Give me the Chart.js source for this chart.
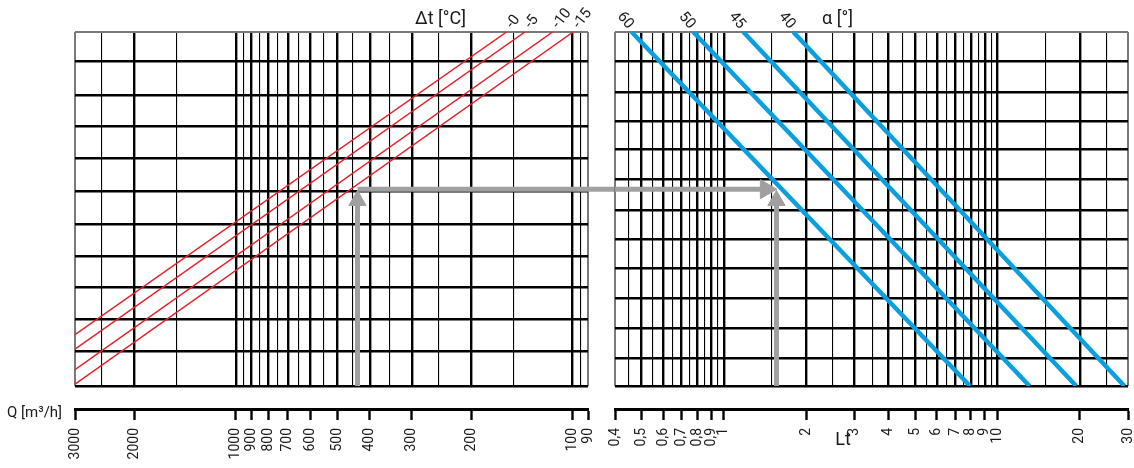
<!DOCTYPE html>
<html>
<head>
<meta charset="utf-8">
<script src="https://cdn.jsdelivr.net/npm/chart.js@4.4.1/dist/chart.umd.min.js"></script>
<style>
  html, body { margin: 0; padding: 0; background: #fff; overflow: hidden; }
  #wrap { position: relative; width: 1134px; height: 468px; }
  .pane { position: absolute; top: 0; height: 468px; }
</style>
</head>
<body>
<div id="wrap">
  <div class="pane" style="left:0;width:615px"><canvas id="left"></canvas></div>
  <div class="pane" style="left:595px;width:539px"><canvas id="right"></canvas></div>
</div>
<script>
// ---- grid / tick values ----
const qGrid = [3000, 2500, 2000, 1500, 1000, 950, 900, 850, 800, 750, 700, 650, 600, 550, 500, 450, 400, 350, 300, 250, 200, 150, 100, 95, 90];
const qMajor = [2000, 1000, 900, 800, 700, 600, 500, 400, 300, 200, 100];
const qTicks = [3000, 2000, 1000, 900, 800, 700, 600, 500, 400, 300, 200, 100, 90];

const ltGrid = [0.4, 0.45, 0.5, 0.55, 0.6, 0.65, 0.7, 0.75, 0.8, 0.85, 0.9, 0.95, 1, 1.5, 2, 2.5, 3, 3.5, 4, 4.5, 5, 5.5, 6, 6.5, 7, 7.5, 8, 8.5, 9, 9.5, 10, 15, 20, 25, 30];
const ltMajor = [0.5, 0.6, 0.7, 0.8, 0.9, 1, 2, 3, 4, 5, 6, 7, 8, 9, 10, 20];
const ltTicks = [0.4, 0.5, 0.6, 0.7, 0.8, 0.9, 1, 2, 3, 4, 5, 6, 7, 8, 9, 10, 20, 30];
const ltTickLabels = ['0,4', '0,5', '0,6', '0,7', '0,8', '0,9', '1', '2', '3', '4', '5', '6', '7', '8', '9', '10', '20', '30'];

// horizontal lines (no scale shown, 0 = bottom, 100 = top)
const yLeftGrid = [0, 9.7, 18.9, 27.9, 36.6, 45.8, 54.9, 64.3, 73.3, 82.1, 91.7, 100];
const yRightGrid = [0, 7.9, 16.3, 24.8, 33.3, 41.4, 49.7, 58.5, 66.8, 74.8, 83.0, 91.8, 100];

// Δt lines : start on Q = 3000 edge, end on top edge
const dtLabels = ['-0', '-5', '-10', '-15'];
const dtStartY = [14.5, 10.4, 4.6, 0.5];
const dtEndQ = [157, 138.5, 114.6, 99.6];

// α lines : start on top edge, end on bottom edge
const alphaLabels = ['60', '50', '45', '40'];
const alphaTopLt = [0.46, 0.773, 1.178, 1.794];
const alphaBottomLt = [7.94, 13.1, 19.4, 29.1];

// worked example (grey arrows)
const exQ = 435;
const exGapQ = 75;       // bar continues into the gap between the panels
const exBarY = 55.6;
const exHeadY = 52.4;
const exHeadLt = 1.424;
const exLt = 1.557;

const FONT = 'Roboto';
const GREY = '#a0a0a0';
const EDGE = '#7a7a7a';

// small plugin: titles and rotated line labels
function tagsPlugin(texts, lineTags) {
    return {
        id: 'tags',
        afterDatasetsDraw(chart) {
            const ctx = chart.ctx;
            ctx.save();
            ctx.fillStyle = '#1a1a1a';
            texts.forEach(t => {
                ctx.font = t.size + 'px ' + FONT;
                ctx.textAlign = t.align || 'left';
                ctx.textBaseline = 'middle';
                ctx.fillText(t.text, t.x, t.y);
            });
            lineTags.forEach(t => {
                const p = chart.getDatasetMeta(t.ds).data[t.pt];
                ctx.save();
                ctx.translate(p.x + t.dx, p.y + t.dy);
                ctx.rotate(t.angle * Math.PI / 180);
                ctx.font = '15px ' + FONT;
                ctx.textAlign = t.align;
                ctx.textBaseline = 'middle';
                ctx.fillText(t.text, 0, 0);
                ctx.restore();
            });
            ctx.restore();
        }
    };
}

function yScale(grid) {
    return {
        type: 'linear', position: 'left', min: 0, max: 100,
        afterBuildTicks: s => { s.ticks = grid.map(v => ({ value: v })); },
        afterFit: s => { s.width = 0; },
        ticks: { display: false },
        border: { display: false },
        grid: {
            drawTicks: false,
            color: c => c.tick.value === 100 ? EDGE : '#000',
            lineWidth: c => c.tick.value === 100 ? 2 : 2.4
        }
    };
}

// keeps the labelled axis from pushing the plot area inwards
function fitTickAxis(s) {
    s.height = 59;
    s.paddingLeft = 0;
    s.paddingRight = 0;
}

function arrowSets(barData, headAt, headRot, shaftData, vHeadAt) {
    return [
        { data: barData, borderColor: GREY, borderWidth: 5, pointRadius: 0, clip: false, borderCapStyle: 'butt' },
        { data: shaftData, borderColor: GREY, borderWidth: 5, pointRadius: 0, clip: false, borderCapStyle: 'butt' },
        { data: vHeadAt, showLine: false, pointStyle: 'triangle', pointRadius: 10, pointRotation: 0,
          pointBackgroundColor: GREY, pointBorderColor: GREY, pointBorderWidth: 1, clip: false }
    ].concat(headAt ? [{ data: headAt, showLine: false, pointStyle: 'triangle', pointRadius: 11, pointRotation: headRot,
          pointBackgroundColor: GREY, pointBorderColor: GREY, pointBorderWidth: 1, clip: false }] : []);
}

// ============ left panel : Q / Δt ============
const dtSets = dtLabels.map((lab, i) => ({
    label: lab,
    data: [{ x: 3000, y: dtStartY[i] }, { x: dtEndQ[i], y: 100 }],
    borderColor: '#e8202a', borderWidth: 1.5, pointRadius: 0, xAxisID: 'x'
}));

new Chart(document.getElementById('left'), {
    type: 'line',
    data: {
        datasets: dtSets.concat(arrowSets(
            [{ x: exQ, y: exBarY }, { x: exGapQ, y: exBarY }], null, 0,
            [{ x: exQ, y: 0 }, { x: exQ, y: exHeadY }],
            [{ x: exQ, y: exHeadY }]
        ))
    },
    options: {
        responsive: true, maintainAspectRatio: false, animation: false,
        layout: { autoPadding: false, padding: { left: 75, top: 32, right: 27, bottom: 0 } },
        plugins: { legend: { display: false }, tooltip: { enabled: false } },
        scales: {
            x: {
                type: 'logarithmic', reverse: true, min: 90, max: 3000, position: 'bottom',
                afterBuildTicks: s => { s.ticks = qGrid.map(v => ({ value: v })); },
                afterFit: s => { s.height = 23; },
                ticks: { display: false },
                border: { display: false },
                grid: {
                    drawTicks: false,
                    color: c => (c.tick.value === 3000 || c.tick.value === 90) ? EDGE : '#000',
                    lineWidth: c => qMajor.includes(c.tick.value) ? 2.4 : ((c.tick.value === 3000 || c.tick.value === 90) ? 2 : 1.1)
                }
            },
            q: {
                type: 'logarithmic', reverse: true, min: 90, max: 3000, position: 'bottom',
                afterBuildTicks: s => { s.ticks = qTicks.map(v => ({ value: v })); },
                afterFit: fitTickAxis,
                border: { display: true, color: '#000', width: 3 },
                grid: { drawOnChartArea: false, drawTicks: true, tickLength: 11, tickWidth: 2.4, tickColor: '#000' },
                ticks: {
                    autoSkip: false, minRotation: 90, maxRotation: 90, padding: 8,
                    color: '#1a1a1a', font: { family: FONT, size: 14 },
                    callback: v => String(v)
                }
            },
            y: yScale(yLeftGrid)
        }
    },
    plugins: [tagsPlugin(
        [{ text: 'Δt [°C]', x: 415, y: 19, size: 18 }, { text: 'Q [m³/h]', x: 7, y: 413, size: 15 }],
        dtLabels.map((lab, i) => ({ ds: i, pt: 1, dx: 3, dy: -5, angle: -52, align: 'left', text: lab }))
    )]
});

// ============ right panel : Lt / α ============
const alphaSets = alphaLabels.map((lab, i) => ({
    label: lab,
    data: [{ x: alphaTopLt[i], y: 100 }, { x: alphaBottomLt[i], y: 0 }],
    borderColor: '#0aa0e0', borderWidth: 4.5, pointRadius: 0, xAxisID: 'x', borderCapStyle: 'butt'
}));

new Chart(document.getElementById('right'), {
    type: 'line',
    data: {
        datasets: alphaSets.concat(arrowSets(
            [{ x: 0.4, y: exBarY }, { x: exHeadLt, y: exBarY }],
            [{ x: exHeadLt, y: exBarY }], 90,
            [{ x: exLt, y: 0 }, { x: exLt, y: exHeadY }],
            [{ x: exLt, y: exHeadY }]
        ))
    },
    options: {
        responsive: true, maintainAspectRatio: false, animation: false,
        layout: { autoPadding: false, padding: { left: 20, top: 32, right: 6, bottom: 0 } },
        plugins: { legend: { display: false }, tooltip: { enabled: false } },
        scales: {
            x: {
                type: 'logarithmic', min: 0.4, max: 30, position: 'bottom',
                afterBuildTicks: s => { s.ticks = ltGrid.map(v => ({ value: v })); },
                afterFit: s => { s.height = 23; },
                ticks: { display: false },
                border: { display: false },
                grid: {
                    drawTicks: false,
                    color: c => (c.tick.value === 0.4 || c.tick.value === 30) ? EDGE : '#000',
                    lineWidth: c => ltMajor.includes(c.tick.value) ? 2.4 : ((c.tick.value === 0.4 || c.tick.value === 30) ? 2 : 1.1)
                }
            },
            lt: {
                type: 'logarithmic', min: 0.4, max: 30, position: 'bottom',
                afterBuildTicks: s => { s.ticks = ltTicks.map(v => ({ value: v })); },
                afterFit: fitTickAxis,
                border: { display: true, color: '#000', width: 3 },
                grid: { drawOnChartArea: false, drawTicks: true, tickLength: 11, tickWidth: 2.4, tickColor: '#000' },
                ticks: {
                    autoSkip: false, minRotation: 90, maxRotation: 90, padding: 8,
                    color: '#1a1a1a', font: { family: FONT, size: 14 },
                    callback: (v, i) => ltTickLabels[i]
                }
            },
            y: yScale(yRightGrid)
        }
    },
    plugins: [tagsPlugin(
        [{ text: 'α [°]', x: 227, y: 19, size: 18 }, { text: 'Lt', x: 248, y: 440, size: 18, align: 'center' }],
        alphaLabels.map((lab, i) => ({ ds: i, pt: 0, dx: -1, dy: -5, angle: 50, align: 'right', text: lab }))
    )]
});
</script>
</body>
</html>
